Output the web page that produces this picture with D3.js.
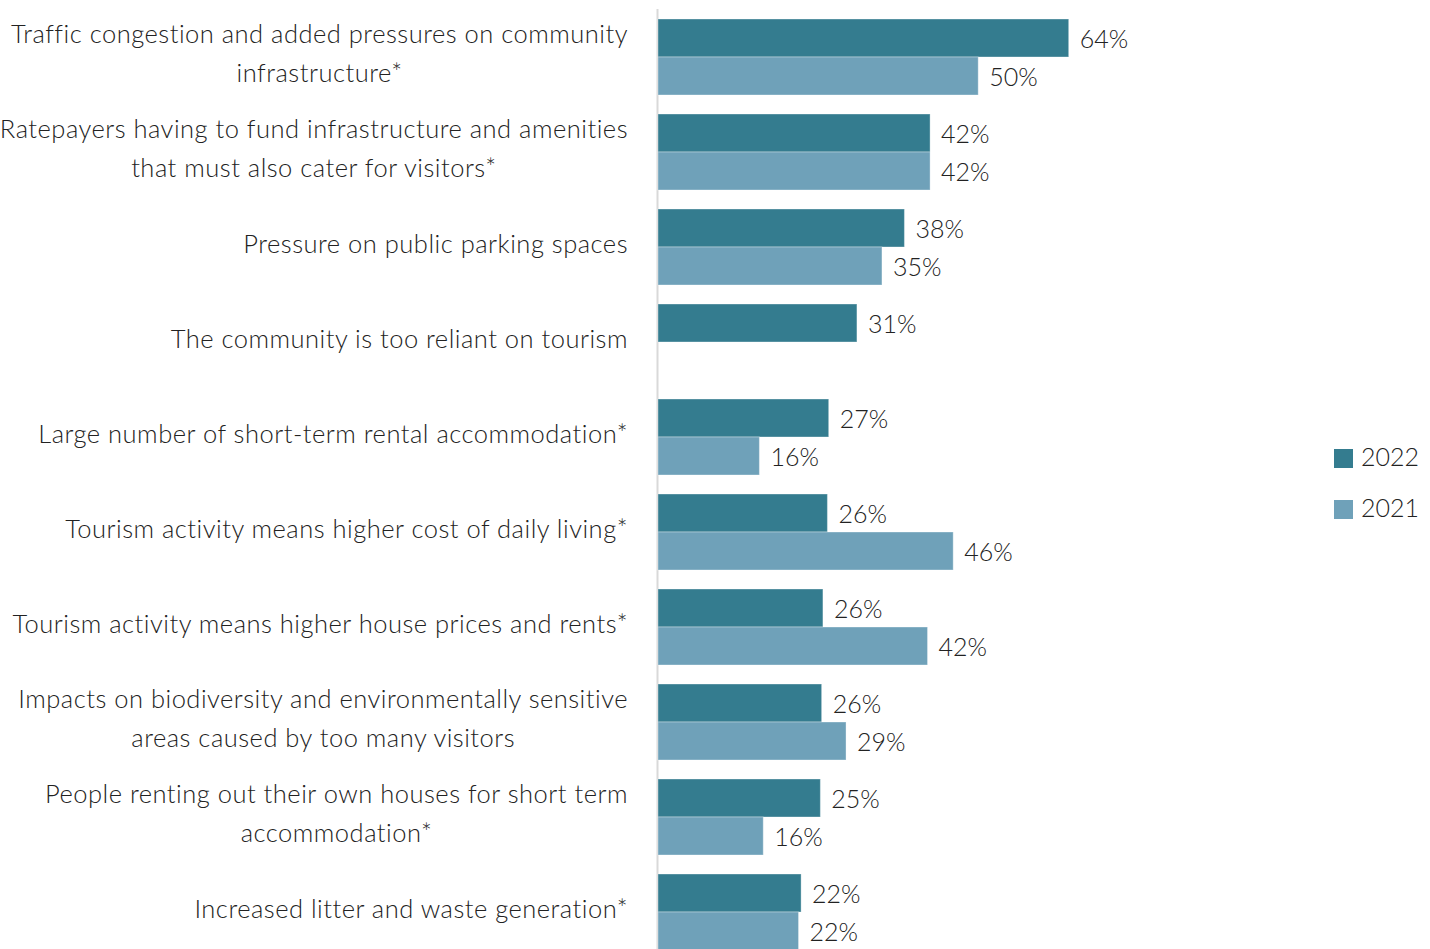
<!DOCTYPE html>
<html>
<head>
<meta charset="utf-8">
<script src="https://cdn.jsdelivr.net/npm/d3@7"></script>
<style>
  html, body { margin: 0; padding: 0; background: #ffffff; }
  svg { display: block; }
</style>
</head>
<body>
<svg id="chart" width="1430" height="949"></svg>
<script>
// ---- data ----
const categories = [
  "Traffic congestion and added pressures on community\ninfrastructure*",
  "Ratepayers having to fund infrastructure and amenities\nthat must also cater for visitors*",
  "Pressure on public parking spaces",
  "The community is too reliant on tourism",
  "Large number of short-term rental accommodation*",
  "Tourism activity means higher cost of daily living*",
  "Tourism activity means higher house prices and rents*",
  "Impacts on biodiversity and environmentally sensitive\nareas caused by too many visitors",
  "People renting out their own houses for short term\naccommodation*",
  "Increased litter and waste generation*"
];
const seriesNames = ["2022", "2021"];
const values2022 = [64.0, 42.4, 38.4, 31.0, 26.6, 26.4, 25.7, 25.5, 25.3, 22.3];
const values2021 = [49.9, 42.4, 34.9, null, 15.8, 46.0, 42.0, 29.3, 16.4, 21.9];
const colors = ["#347c8f", "#6fa1b9"];

// ---- layout ----
const FONT = "Lato, 'Source Sans Pro', sans-serif";
const FS = 25;
const FS_CAT = 25.5;
const x0 = 658;
const svg = d3.select("#chart");

const x = d3.scaleLinear().domain([0, 100]).range([x0, x0 + 641.7]);
const y = d3.scaleBand().domain(categories).range([9.5, 959.5]).paddingInner(0.2).paddingOuter(0.1);
const ySub = d3.scaleBand().domain(seriesNames).range([0, y.bandwidth()]);

const rows = categories.map((c, i) => ({
  cat: c,
  vals: [{s: "2022", v: values2022[i]}, {s: "2021", v: values2021[i]}]
}));

// axis line
svg.append("line")
  .attr("x1", x0 - 0.5).attr("x2", x0 - 0.5)
  .attr("y1", 9).attr("y2", 949)
  .attr("stroke", "#d9d9d9").attr("stroke-width", 2);

const g = svg.selectAll("g.row").data(rows).join("g")
  .attr("class", "row")
  .attr("transform", d => `translate(0,${y(d.cat)})`);

g.selectAll("rect").data(d => d.vals.filter(v => v.v != null)).join("rect")
  .attr("x", x(0))
  .attr("y", d => ySub(d.s))
  .attr("width", d => x(d.v) - x(0))
  .attr("height", ySub.bandwidth())
  .attr("fill", (d) => colors[seriesNames.indexOf(d.s)])
  .attr("stroke", "rgba(255,255,255,0.35)")
  .attr("stroke-width", 1);

g.selectAll("text.val").data(d => d.vals.filter(v => v.v != null)).join("text")
  .attr("class", "val")
  .attr("x", d => x(d.v) + 11)
  .attr("y", d => ySub(d.s) + ySub.bandwidth() / 2 + 9.5)
  .attr("font-family", FONT).attr("font-weight", 300)
  .attr("font-size", FS).attr("fill", "#222222")
  .text(d => Math.round(d.v) + "%");

// category labels
const labelRight = 628;
const lineH = 39;
rows.forEach(r => {
  const lines = r.cat.split("\n");
  const cy = y(r.cat) + y.bandwidth() / 2;
  const t = svg.append("g");
  const texts = lines.map((ln, i) => t.append("text")
    .attr("font-family", FONT).attr("font-weight", 300)
    .attr("font-size", FS_CAT).attr("fill", "#222222")
    .attr("letter-spacing", 0.5)
    .attr("y", cy + 5.5 + (i - (lines.length - 1) / 2) * lineH)
    .text(ln));
  const widths = texts.map(tx => tx.node().getComputedTextLength());
  const maxW = d3.max(widths);
  const centerX = labelRight - maxW / 2;
  texts.forEach(tx => tx.attr("x", centerX).attr("text-anchor", "middle"));
});

// legend
const leg = svg.append("g").selectAll("g").data(seriesNames).join("g")
  .attr("transform", (d, i) => `translate(1334,${449 + i * 51})`);
leg.append("rect").attr("width", 19).attr("height", 19)
  .attr("fill", (d, i) => colors[i]);
leg.append("text").attr("x", 27).attr("y", 17)
  .attr("font-family", FONT).attr("font-weight", 300)
  .attr("font-size", FS).attr("fill", "#222222")
  .text(d => d);
</script>
</body>
</html>
